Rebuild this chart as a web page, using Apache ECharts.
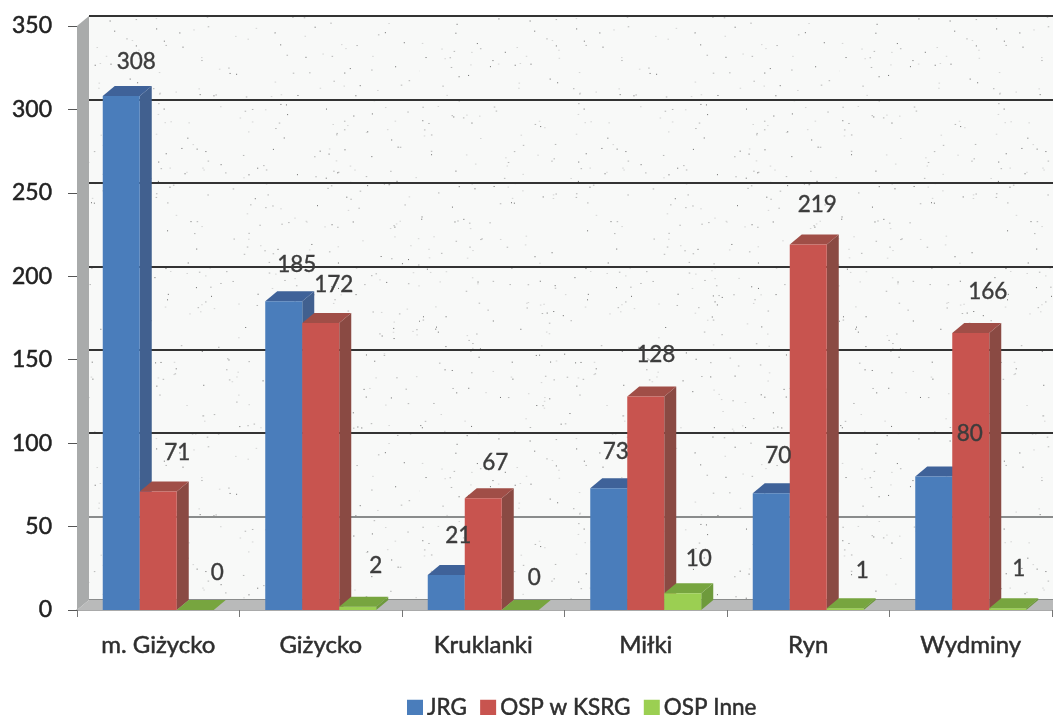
<!DOCTYPE html>
<html><head><meta charset="utf-8">
<style>html,body{margin:0;padding:0;background:#fff}#c{width:1053px;height:715px}</style>
<script src="https://cdn.jsdelivr.net/npm/echarts@6/dist/echarts.min.js"></script>
</head><body><div id="c"></div>
<script>
const categories = ['m. Giżycko','Giżycko','Kruklanki','Miłki','Ryn','Wydminy'];
const jrg = [308,185,21,73,70,80];
const ospKsrg = [71,172,67,128,219,166];
const ospInne = [0,2,0,10,1,1];

// label nudges relative to the top of each bar
const jrgNudge = [[15,-34],[13,-37],[12,-39],[7,-36],[7,-37],[36,-43]];
const ksrgNudge = [[19,-39],[13,-38],[12,-35],[10,-42],[9,-40],[17,-41]];
const inneNudge = [[22,-37],[18,-41],[14,-32],[16,-35],[17,-38],[11,-40]];

const FONT = 'Lato';
const DX = 12, DY = 10, BAR = 37;
const heavy = c => ({textBorderColor:c, textBorderWidth:0.5});

function speckle(){
  const s = 420, c = document.createElement('canvas'); c.width = c.height = s;
  const g = c.getContext('2d');
  g.fillStyle = '#f8f9f8'; g.fillRect(0,0,s,s);
  let r = 12345;
  const nx = () => (r = (r * 1103515245 + 12345) & 0x7fffffff) / 0x7fffffff;
  for (let i = 0; i < 620; i++){
    const x = nx()*s, y = nx()*s, t = nx();
    g.fillStyle = t < .3 ? 'rgba(60,60,60,.75)' : t < .65 ? 'rgba(120,120,120,.5)' : 'rgba(190,190,190,.6)';
    g.fillRect(x, y, t < .3 ? 1 : 1.5, 1);
  }
  return c;
}

function barSeries(name, values, nudges, slot, front, side, top){
  return {
    name, type:'custom', coordinateSystem:'cartesian2d', xAxisIndex:0, yAxisIndex:0, z:3,
    itemStyle:{color:front},
    encode:{x:0,y:1},
    data: values.map((v,i)=>[i,v]),
    renderItem(params, api){
      const i = api.value(0), v = api.value(1);
      const base = api.coord([i,0]), tip = api.coord([i,v]);
      const x0 = base[0] + (slot-1.5)*BAR, x1 = x0 + BAR, y0 = base[1], y1 = tip[1];
      const n = nudges[i];
      return {type:'group', children:[
        {type:'polygon', shape:{points:[[x1,y1],[x1+DX,y1-DY],[x1+DX,y0-DY],[x1,y0]]}, style:{fill:side}},
        {type:'polygon', shape:{points:[[x0,y1],[x0+DX,y1-DY],[x1+DX,y1-DY],[x1,y1]]}, style:{fill:top}},
        {type:'rect', shape:{x:x0,y:y1,width:BAR,height:y0-y1}, style:{fill:front}},
        {type:'text', z2:100, style:{x:x0+BAR/2+n[0], y:y1+n[1], text:String(v), fill:'#3c3c3c',
          stroke:'#3c3c3c', lineWidth:0.4,
          font:'22.5px '+FONT, textAlign:'center', textVerticalAlign:'middle'}}
      ]};
    }
  };
}

const walls = {
  name:'walls', type:'custom', coordinateSystem:'cartesian2d', xAxisIndex:0, yAxisIndex:0, z:1, silent:true,
  data:[[0,0]],
  renderItem(params, api){
    const cs = params.coordSys, top = api.coord([0,350])[1], bot = api.coord([0,0])[1];
    const l = cs.x, r = cs.x + cs.width + 1;
    return {type:'group', children:[
      {type:'polygon', shape:{points:[[l,top],[l+DX,top-DY],[l+DX,bot-DY],[l,bot]]}, style:{fill:'#a9abab'}},
      {type:'polygon', shape:{points:[[l,bot],[l+DX,bot-DY],[r,bot-DY],[r,bot]]}, style:{fill:'#b9baba'}}
    ]};
  }
};

const grayLine = '#8a8c8c';
const option = {
  animation:false,
  backgroundColor:'#ffffff',
  grid:[
    {left:77, top:26, right:1, height:584},
    {left:77+DX, top:26-DY, right:0, height:584, show:true, borderWidth:0, backgroundColor:{image:speckle(), repeat:'repeat'}, z:0}
  ],
  legend:{
    data:['JRG','OSP w KSRG','OSP Inne'], left:402, top:691, icon:'rect',
    itemWidth:16, itemHeight:16, itemGap:13,
    textStyle:{fontFamily:FONT, fontSize:22.5, color:'#2e2e2e', padding:[0,0,0,-1], ...heavy('#2e2e2e')}
  },
  xAxis:[
    {type:'category', gridIndex:0, data:categories, boundaryGap:true,
      axisLine:{show:true, lineStyle:{color:'#8d8f8f', width:1.5}},
      axisTick:{show:true, length:7, alignWithLabel:false, lineStyle:{color:'#777'}},
      axisLabel:{fontFamily:FONT, fontSize:24, color:'#2e2e2e', margin:23, interval:0, ...heavy('#2e2e2e')}},
    {type:'category', gridIndex:1, data:categories, show:false}
  ],
  yAxis:[
    {type:'value', gridIndex:0, min:0, max:350, interval:50,
      axisLine:{show:false},
      axisTick:{show:true, length:9, lineStyle:{color:'#555'}},
      axisLabel:{fontFamily:FONT, fontSize:23, color:'#222', margin:25, ...heavy('#222')},
      splitLine:{show:false}},
    {type:'value', gridIndex:1, min:0, max:350, interval:50,
      axisLine:{show:false}, axisTick:{show:false}, axisLabel:{show:false},
      splitLine:{show:true, lineStyle:{width:2, color:['#8a8c8c',grayLine,'#333','#333','#333','#333','#333','#333']}}}
  ],
  series:[
    walls,
    barSeries('JRG', jrg, jrgNudge, 0, '#4a7dbb', '#41608f', '#3f6299'),
    barSeries('OSP w KSRG', ospKsrg, ksrgNudge, 1, '#c8544f', '#8a4a43', '#a04e47'),
    barSeries('OSP Inne', ospInne, inneNudge, 2, '#9bcf52', '#6e9a3c', '#77a53f')
  ]
};
echarts.init(document.getElementById('c'),null,{renderer:'canvas'}).setOption(option);
</script></body></html>
